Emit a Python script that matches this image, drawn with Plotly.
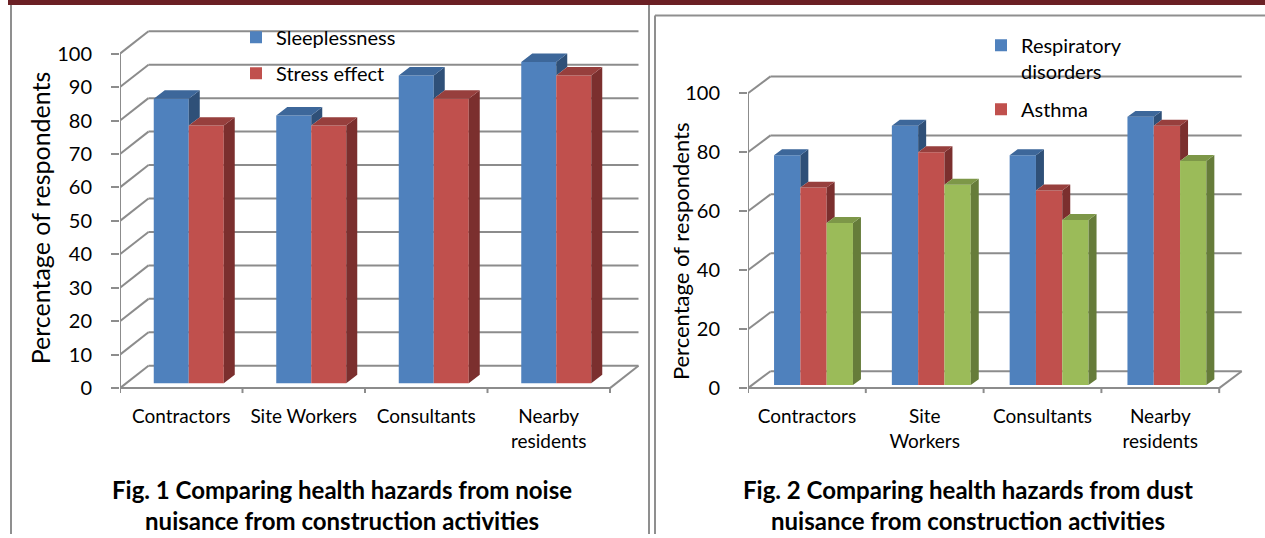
import plotly.graph_objects as go

W, H = 1265, 538

# ---------------- data ----------------
fig1_categories = ["Contractors", "Site Workers", "Consultants", "Nearby residents"]
fig1_tick_labels = ["Contractors", "Site Workers", "Consultants", "Nearby<br>residents"]
sleeplessness = [85, 80, 92, 96]
stress_effect = [77, 77, 85, 92]
fig1_y_ticks = [0, 10, 20, 30, 40, 50, 60, 70, 80, 90, 100]

fig2_categories = ["Contractors", "Site Workers", "Consultants", "Nearby residents"]
fig2_tick_labels = ["Contractors", "Site<br>Workers", "Consultants", "Nearby<br>residents"]
respiratory_disorders = [78, 88, 78, 91]
asthma = [67, 79, 66, 88]
third_series = [55, 68, 56, 76]
fig2_y_ticks = [0, 20, 40, 60, 80, 100]

y_title = "Percentage of respondents"
caption1 = "<b>Fig. 1 Comparing health hazards from noise<br>nuisance from construction activities</b>"
caption2 = "<b>Fig. 2 Comparing health hazards from dust<br>nuisance from construction activities</b>"

# ---------------- styling ----------------
FONT = "Lato"
GRID = "#8c8c8c"
BLUE = ("#4f81bd", "#3d679a", "#2f5078")
RED = ("#c0504d", "#973f3d", "#7b2f2e")
GREEN = ("#9bbb59", "#7d9748", "#667c3a")

# pixel geometry of the two panels
P1 = dict(left=120, right=645, top=20, bottom=398, cat=122.5, zero=391, unit=3.37,
          wall_dx=28.5, wall_dy=22.5, bar_w=35, shift=7.5, base=5, side_dx=11, side_dy=8.5)
P2 = dict(left=748, right=1255, top=60, bottom=398, cat=117.8, zero=391, unit=2.97,
          wall_dx=22.5, wall_dy=17, bar_w=26.3, shift=6.6, base=3, side_dx=8, side_dy=6)

fig = go.Figure()
shapes = []


def add_panel(p, xa, ya, labels, series, y_ticks, legend_name):
    n = len(labels)
    cu, yu = p["cat"], p["unit"]
    wdx, wdy = p["wall_dx"] / cu, p["wall_dy"] / yu
    bw, shift, base = p["bar_w"] / cu, p["shift"] / cu, p["base"] / yu
    sdx, sdy = p["side_dx"] / cu, p["side_dy"] / yu
    m = len(series)
    group = m * bw
    xs = list(range(n))

    def line(x0, y0, x1, y1):
        shapes.append(dict(type="line", xref=xa, yref=ya, x0=x0, y0=y0, x1=x1, y1=y1,
                           line=dict(color=GRID, width=2), layer="below"))

    # back wall gridlines and side-wall diagonals
    for v in y_ticks:
        line(-0.5 + wdx, v + wdy, n - 0.5 + wdx, v + wdy)
        line(-0.5, v, -0.5 + wdx, v + wdy)
    # front value axis
    line(-0.5, 0, -0.5, max(y_ticks))
    # floor front edge + right edge
    line(-0.5, 0, n - 0.5, 0)
    line(n - 0.5, 0, n - 0.5 + wdx, wdy)
    # category boundary ticks
    for k in range(n + 1):
        line(k - 0.5, 0, k - 0.5, -5 / yu)

    # front faces
    for k, (name, vals, cols, show) in enumerate(series):
        off = shift - group / 2 + k * bw
        fig.add_trace(go.Bar(
            x=xs, y=vals, base=base, width=bw, offset=off,
            marker=dict(color=cols[0], line=dict(width=0)),
            name=name, showlegend=show, legend=legend_name, legendgroup=legend_name + name,
            xaxis=xa, yaxis=ya,
            hovertemplate="%{y}<extra>" + name + "</extra>"))
    # side and top faces
    for k, (name, vals, cols, show) in enumerate(series):
        sx, sy, tx, ty = [], [], [], []
        for i in range(n):
            x0 = i + shift - group / 2 + k * bw
            x1 = x0 + bw
            t = base + vals[i]
            lo = base + series[k + 1][1][i] if k < m - 1 else base
            if lo < t:
                sx += [x1, x1 + sdx, x1 + sdx, x1, x1, None]
                sy += [lo, lo + sdy, t + sdy, t, lo, None]
            tx += [x0, x1, x1 + sdx, x0 + sdx, x0, None]
            ty += [t, t, t + sdy, t + sdy, t, None]
        for fx, fy, col in ((sx, sy, cols[2]), (tx, ty, cols[1])):
            fig.add_trace(go.Scatter(
                x=fx, y=fy, mode="lines", fill="toself", fillcolor=col,
                line=dict(width=0, color=col), hoverinfo="skip", showlegend=False,
                legendgroup=legend_name + name, xaxis=xa, yaxis=ya))

    xr = [-0.5, -0.5 + (p["right"] - p["left"]) / cu]
    yr = [-(p["bottom"] - p["zero"]) / yu, (p["zero"] - p["top"]) / yu]
    return dict(
        x=dict(domain=[p["left"] / W, p["right"] / W], range=xr, tickvals=xs, ticktext=labels,
               ticks="", showgrid=False, zeroline=False, showline=False, ticklabelstandoff=8,
               tickfont=dict(family=FONT, size=19, color="black"), anchor=ya,
               fixedrange=True),
        y=dict(domain=[1 - p["bottom"] / H, 1 - p["top"] / H], range=yr, tickvals=y_ticks,
               ticktext=[str(v) for v in y_ticks], ticks="outside", ticklen=8, tickwidth=2,
               tickcolor=GRID, ticklabelstandoff=15, showgrid=False, zeroline=False,
               showline=False, anchor=xa, fixedrange=True,
               tickfont=dict(family=FONT, size=20, color="black")),
    )


ax1 = add_panel(P1, "x", "y", fig1_tick_labels,
                [("Sleeplessness", sleeplessness, BLUE, True),
                 ("Stress effect", stress_effect, RED, True)],
                fig1_y_ticks, "legend")
ax2 = add_panel(P2, "x2", "y2", fig2_tick_labels,
                [("Respiratory<br>disorders", respiratory_disorders, BLUE, True),
                 ("Asthma", asthma, RED, True),
                 ("Series 3", third_series, GREEN, False)],
                fig2_y_ticks, "legend2")

# page decorations: top rule and panel frames
shapes.append(dict(type="rect", xref="paper", yref="paper", x0=8 / W, x1=1, y0=1 - 5 / H, y1=1,
                   fillcolor="#6b2024", line=dict(width=0), layer="above"))
for (x0, y0, x1, y1) in [(11, 5, 11, 538), (649, 5, 649, 538), (655, 15.5, 655, 538),
                         (655, 15.5, 1265, 15.5)]:
    shapes.append(dict(type="line", xref="paper", yref="paper", x0=x0 / W, x1=x1 / W,
                       y0=1 - y0 / H, y1=1 - y1 / H, line=dict(color="#8f8f8f", width=2)))

annotations = [
    dict(text=caption1, x=342 / W, y=1 - 509 / H, xref="paper", yref="paper", showarrow=False,
         xanchor="center", yanchor="middle",
         font=dict(family=FONT, size=24, color="black"), align="center"),
    dict(text=caption2, x=968 / W, y=1 - 509 / H, xref="paper", yref="paper", showarrow=False,
         xanchor="center", yanchor="middle",
         font=dict(family=FONT, size=24, color="black"), align="center"),
    dict(text=y_title, x=40 / W, y=1 - 220 / H, xref="paper", yref="paper", showarrow=False,
         xanchor="center", yanchor="middle", textangle=-90,
         font=dict(family=FONT, size=25, color="black")),
    dict(text=y_title, x=680 / W, y=1 - 253 / H, xref="paper", yref="paper", showarrow=False,
         xanchor="center", yanchor="middle", textangle=-90,
         font=dict(family=FONT, size=22, color="black")),
]

legend_common = dict(xanchor="left", yanchor="top", bgcolor="rgba(0,0,0,0)",
                     font=dict(family=FONT, size=20, color="black"), traceorder="grouped",
                     valign="top", itemclick=False, itemdoubleclick=False)

fig.update_layout(
    width=W, height=H, margin=dict(l=0, r=0, t=0, b=0),
    paper_bgcolor="white", plot_bgcolor="rgba(0,0,0,0)",
    barmode="overlay", showlegend=True,
    xaxis=ax1["x"], yaxis=ax1["y"], xaxis2=ax2["x"], yaxis2=ax2["y"],
    legend=dict(x=236 / W, y=1 - 18 / H, tracegroupgap=7, **legend_common),
    legend2=dict(x=981 / W, y=1 - 26 / H, tracegroupgap=9, **legend_common),
    shapes=shapes, annotations=annotations,
)

fig.write_html("out.html", config={"displayModeBar": False},
               post_script="document.body.style.margin='0px';")
